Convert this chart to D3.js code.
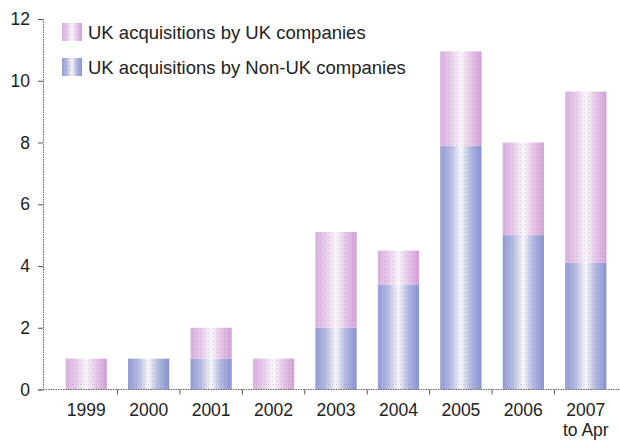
<!DOCTYPE html>
<html>
<head>
<meta charset="utf-8">
<script src="https://cdn.jsdelivr.net/npm/d3@7"></script>
<style>
  body { margin: 0; background: #fff; }
  text { font-family: "Liberation Sans", Arial, sans-serif; fill: #222; }
</style>
</head>
<body>
<div id="chart"></div>
<script>
const years = ["1999", "2000", "2001", "2002", "2003", "2004", "2005", "2006", "2007\nto Apr"];
const nonUK = [0, 1, 1, 0, 2, 3.4, 7.9, 5, 4.1];     // UK acquisitions by Non-UK companies
const byUK = [1, 0, 1, 1, 3.1, 1.1, 3.05, 3, 5.55];  // UK acquisitions by UK companies
const yTicks = [0, 2, 4, 6, 8, 10, 12];
const seriesNames = ["UK acquisitions by UK companies", "UK acquisitions by Non-UK companies"];

var W = 620, H = 441;

var svg = d3.select("#chart").append("svg")
    .attr("width", W)
    .attr("height", H);

// gradient fills, cylinder-ish like the original
var defs = svg.append("defs");
function addGrad(id, edge, mid, dark) {
    var g = defs.append("linearGradient").attr("id", id)
        .attr("x1", "0%").attr("x2", "100%").attr("y1", "0%").attr("y2", "0%");
    g.append("stop").attr("offset", "0%").attr("stop-color", edge);
    g.append("stop").attr("offset", "25%").attr("stop-color", mid);
    g.append("stop").attr("offset", "50%").attr("stop-color", "#fbf8fc");
    g.append("stop").attr("offset", "72%").attr("stop-color", mid);
    g.append("stop").attr("offset", "100%").attr("stop-color", dark);
}
addGrad("gPink", "#dcaee2", "#e9c9ec", "#d69ddc");
addGrad("gBlue", "#8f9ad8", "#b3bae6", "#8490d6");

// dither dots overlay
var pat = defs.append("pattern").attr("id", "dots")
    .attr("patternUnits", "userSpaceOnUse").attr("width", 4).attr("height", 4);
pat.append("rect").attr("x", 0).attr("y", 0).attr("width", 1).attr("height", 1).attr("fill", "#9a9a9a").attr("opacity", 0.45);
pat.append("rect").attr("x", 2).attr("y", 2).attr("width", 1).attr("height", 1).attr("fill", "#c8c8c8").attr("opacity", 0.45);

var x = d3.scaleBand()
    .domain(years)
    .range([55, 617])
    .paddingInner(0.34)
    .paddingOuter(0.17);

var y = d3.scaleLinear()
    .domain([0, 12])
    .range([389.5, 19]);

var axisX0 = 43;

// bars: blue at bottom, pink on top
var groups = svg.selectAll(".bar")
    .data(years)
    .enter()
    .append("g")
    .attr("class", "bar");

function drawSeg(sel, lo, hi, fill) {
    sel.append("rect")
        .attr("x", d => x(d))
        .attr("width", x.bandwidth())
        .attr("y", (d, i) => y(hi(i)))
        .attr("height", (d, i) => y(lo(i)) - y(hi(i)))
        .attr("fill", fill);
    sel.append("rect")
        .attr("x", d => x(d))
        .attr("width", x.bandwidth())
        .attr("y", (d, i) => y(hi(i)))
        .attr("height", (d, i) => y(lo(i)) - y(hi(i)))
        .attr("fill", "url(#dots)");
}
drawSeg(groups, i => 0, i => nonUK[i], "url(#gBlue)");
drawSeg(groups, i => nonUK[i], i => nonUK[i] + byUK[i], "url(#gPink)");

// y axis
var yAxis = svg.append("g")
    .attr("transform", "translate(" + axisX0 + ",0)")
    .call(d3.axisLeft(y).tickValues(yTicks).tickSize(5).tickPadding(8));
yAxis.select(".domain").attr("stroke", "#666").attr("stroke-dasharray", "1.5,1");
yAxis.selectAll(".tick line").attr("stroke", "#555");
yAxis.selectAll("text").style("font-size", "17.5px").attr("fill", "#222");

// x axis
var xAxis = svg.append("g").attr("transform", "translate(0," + y(0) + ")");
xAxis.append("line")
    .attr("x1", axisX0).attr("x2", W)
    .attr("stroke", "#666").attr("stroke-dasharray", "1.5,1");
var half = x.step() * x.paddingInner() / 2;
xAxis.selectAll(".sep")
    .data(years.slice(1))
    .enter()
    .append("line")
    .attr("class", "sep")
    .attr("x1", d => x(d) - half).attr("x2", d => x(d) - half)
    .attr("y1", 0).attr("y2", 5)
    .attr("stroke", "#555");
var lab = xAxis.selectAll(".lab")
    .data(years)
    .enter()
    .append("text")
    .attr("class", "lab")
    .attr("text-anchor", "middle")
    .style("font-size", "17.5px")
    .attr("transform", d => "translate(" + (x(d) + x.bandwidth() / 2) + ",0)");
lab.selectAll("tspan")
    .data(d => d.split("\n"))
    .enter()
    .append("tspan")
    .attr("x", 0)
    .attr("y", (d, i) => 26 + i * 20)
    .text(d => d);

// legend
var legend = svg.selectAll(".legend")
    .data(seriesNames)
    .enter()
    .append("g")
    .attr("class", "legend")
    .attr("transform", (d, i) => "translate(62," + (23 + i * 35) + ")");
legend.append("rect")
    .attr("width", 20).attr("height", 18)
    .attr("fill", (d, i) => i === 0 ? "url(#gPink)" : "url(#gBlue)");
legend.append("rect")
    .attr("width", 20).attr("height", 18)
    .attr("fill", "url(#dots)");
legend.append("text")
    .attr("x", 26)
    .attr("y", 15.5)
    .style("font-size", "18.5px")
    .text(d => d);
</script>
</body>
</html>
